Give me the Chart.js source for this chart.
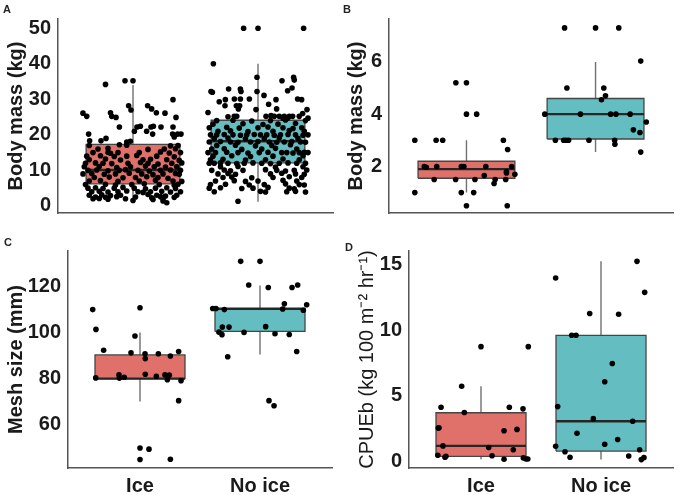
<!DOCTYPE html>
<html>
<head>
<meta charset="utf-8">
<script src="https://cdn.jsdelivr.net/npm/chart.js@4"></script>
<style>
body { margin: 0; background: #fff; }
#wrap { position: relative; width: 677px; height: 495px; font-family: "Liberation Sans", Arial, sans-serif; }
canvas { position: absolute; }
.tag { position: absolute; font-size: 11px; font-weight: bold; color: #222; line-height: 11px; }
</style>
</head>
<body>
<div id="wrap">
  <canvas id="panelA" width="340" height="232" style="left:0;top:0"></canvas>
  <canvas id="panelB" width="337" height="232" style="left:340px;top:0"></canvas>
  <canvas id="panelC" width="340" height="263" style="left:0;top:232px"></canvas>
  <canvas id="panelD" width="337" height="263" style="left:340px;top:232px"></canvas>
  <div class="tag" style="left:3px;top:4px">A</div>
  <div class="tag" style="left:343px;top:4px">B</div>
  <div class="tag" style="left:4px;top:237px">C</div>
  <div class="tag" style="left:345px;top:242px">D</div>
</div>
<script>
const categories = ['Ice', 'No ice'];
const groupColors = ['#E0706A', '#64BEC1'];

// box stats per group: [lower whisker, Q1, median, Q3, upper whisker]
const boxA = [[1.2, 6.2, 10.1, 17.3, 34.0], [1.2, 12.1, 18.2, 24.1, 40.0]];
const boxB = [[1.0, 1.55, 1.9, 2.2, 3.0], [2.55, 3.05, 4.0, 4.6, 6.0]];
const boxC = [[70, 80, 80, 90.3, 100], [90.5, 100.5, 110.4, 110.4, 120.5]];
const boxD = [[0.15, 0.37, 1.17, 3.7, 5.73], [0.12, 0.77, 3.05, 9.62, 15.27]];

// y axis ticks and ranges
const ticksA = [0, 10, 20, 30, 40, 50];
const ticksB = [2, 4, 6];
const ticksC = [60, 80, 100, 120];
const ticksD = [0, 5, 10, 15];
const rangeA = [-2, 52.6];
const rangeB = [0.22, 7.64];
const rangeC = [41.1, 135.5];
const rangeD = [-0.52, 16.06];

// observations: [jitter offset from group centre, value]
const ptsAIce = [
  [-0.064,35.2],[0,35.2],[-0.22,34.2],[-0.40,26.1],[-0.37,25.2],[-0.18,26.2],[-0.17,25.2],[-0.136,24.9],
  [-0.035,28.2],[-0.016,27],[0.32,29.9],[0.117,28.2],[0.149,27.3],[0.187,26.2],[0.256,26.1],[0.344,24.9],
  [-0.355,20.2],[-0.347,18.3],[-0.256,18.3],[-0.216,19],[-0.109,22.2],[-0.021,18.2],[0.011,21],[0.032,22.2],
  [0.059,22.4],[0.109,21],[0.144,22.2],[0.163,22.4],[0.224,22.2],[0.32,22.2],[0.157,20.2],[0.317,20.2],
  [0.357,20.2],[0.384,20.2],[0.33,19.4],[-0.109,17.2],[-0.05,18],
  [-0.35,17],[-0.05,17.1],[0.3,16.9],[0.36,17],
  [-0.28,16],[-0.2,16.2],[0.12,15.9],[0.25,16],[0.34,16.1],
  [-0.32,15],[-0.2,15.1],[-0.18,14.8],[-0.12,15],[0.05,15],[0.22,15.2],[0.29,14.9],[0.38,15],
  [-0.37,14],[-0.26,14.1],[-0.15,13.9],[-0.05,14],[0.03,14.2],[0.19,14],[0.33,13.8],
  [-0.35,13],[-0.22,13.2],[-0.1,12.9],[0.08,13],[0.14,13.1],[0.27,13],[0.37,12.8],
  [-0.38,12],[-0.3,12.1],[-0.24,12],[-0.17,11.9],[-0.04,12],[0.06,12.2],[0.12,12],[0.2,11.8],[0.31,12],[0.39,12.1],
  [-0.39,11],[-0.27,11.1],[-0.13,10.8],[-0.02,11],[0.1,11.2],[0.17,11],[0.26,10.9],[0.35,11],
  [-0.36,10],[-0.29,10.1],[-0.2,9.9],[-0.11,10],[-0.06,10.2],[0.04,10],[0.13,9.8],[0.22,10],[0.3,10.1],[0.38,10],
  [-0.4,9],[-0.33,9.1],[-0.23,8.9],[-0.14,9],[-0.03,9.2],[0.07,9],[0.16,8.8],[0.24,9],[0.34,9.1],[0.37,8.9],
  [-0.31,8],[-0.19,8.1],[-0.08,7.9],[0.02,8],[0.11,8.2],[0.2,8],[0.28,7.8],
  [-0.35,7],[-0.26,7.1],[-0.12,6.9],[0.05,7],[0.18,7.2],[0.32,7],[0.39,6.9],
  [-0.38,6],[-0.22,6.1],[-0.14,5.9],[-0.01,6],[0.09,6.2],[0.21,6],[0.33,5.8],[0.36,6.1],
  [-0.36,5],[-0.3,5.1],[-0.24,4.9],[-0.15,5],[-0.08,5.2],[0.01,5],[0.1,4.8],[0.18,5],[0.27,5.1],[0.34,4.9],
  [-0.33,4],[-0.27,4.1],[-0.2,3.9],[-0.12,4],[-0.05,4.2],[0.04,4],[0.08,3.8],[0.14,4],[0.23,4.1],[0.3,3.9],[0.38,4],
  [-0.35,3],[-0.25,3.1],[-0.18,2.9],[-0.1,3],[0.12,3.2],[0.19,3],[0.26,2.8],[0.35,3],
  [-0.3,2.5],[-0.22,2.4],[-0.13,2.6],[0.02,2.5],[0.15,2.3],[0.22,2.6],[0.33,2.4],
  [-0.32,2],[-0.27,2.1],[-0.2,1.9],[-0.06,2],[0.16,1.8],[0.24,2],
  [0,1.5],[0.24,1.4],[0.27,0.9]
];
const ptsANoIce = [
  [-0.115,50],[0,50],[0.365,50],[-0.357,40],[-0.008,36.2],[0.285,36.2],[0.29,35.4],[0.192,35.2],
  [-0.376,32.2],[-0.365,32],[-0.235,32.9],[-0.141,32.9],[-0.136,32.2],[-0.008,32.2],[0.048,31.1],[0.237,32.4],
  [0.272,33.2],[-0.31,29.3],[-0.261,29.9],[-0.189,30.1],[-0.141,30.1],[-0.069,30.1],[0.317,30.1],[0.349,29.9],
  [0.144,29.9],[-0.264,28.2],[-0.173,28.2],[-0.147,28.2],[0.085,28.6],[-0.157,27.3],[-0.016,27.1],[0.149,27.3],
  [0.392,27.1],[-0.4,26.3],[-0.24,25.1],[-0.19,25.2],[-0.17,25.2],[0.064,25.2],[0.104,25.4],[0.13,25.2],
  [0.17,25.2],[0.21,25.2],[0.25,25.2],[0.277,25.2],[0.33,25.2],[0.2,24.7],[0.237,24.7],[0.4,24.7],[0.357,26],
  [-0.33,24],[-0.2,24.1],[-0.05,23.9],[0.1,24],[0.22,24.2],[0.38,24],
  [-0.36,23],[-0.12,23.1],[0.04,22.9],[0.16,23],[0.3,23.2],
  [-0.39,22],[-0.25,22.1],[-0.15,21.9],[0,22],[0.08,22.2],[0.2,22],[0.28,21.8],[0.35,22],
  [-0.32,21],[-0.22,21.1],[-0.08,20.9],[0.12,21],[0.25,21.2],[0.37,21],
  [-0.38,20],[-0.33,20],[-0.27,20.1],[-0.2,20],[-0.14,19.9],[-0.09,20],[-0.03,20.1],[0.02,20],[0.07,20],
  [0.13,19.9],[0.18,20],[0.24,20.1],[0.3,20],[0.36,19.9],[0.4,20],
  [-0.35,19],[-0.24,19.1],[-0.1,18.9],[0.05,19],[0.17,19.2],[0.32,19],
  [-0.39,18],[-0.3,18.1],[-0.22,18],[-0.16,17.9],[-0.06,18],[0,18.1],[0.09,18],[0.15,17.9],[0.21,18],[0.27,18.1],[0.34,18],[0.38,17.9],
  [-0.33,17],[-0.18,17.1],[-0.02,16.9],[0.11,17],[0.26,17.2],
  [-0.37,16],[-0.27,16.1],[-0.13,15.9],[0.03,16],[0.14,16.2],[0.31,16],
  [-0.4,15],[-0.34,15],[-0.25,15.1],[-0.16,15],[-0.08,14.9],[0.01,15],[0.08,15.1],[0.19,15],[0.23,15],[0.28,14.9],[0.33,15],[0.37,15.1],[0.4,15],
  [-0.36,14],[-0.21,14.1],[-0.06,13.9],[0.12,14],[0.36,14.1],
  [-0.38,13],[-0.28,13.1],[-0.1,12.9],[0.06,13],[0.2,13.2],[0.33,13],
  [-0.39,12],[-0.35,12],[-0.3,12.1],[-0.24,12],[-0.17,11.9],[-0.11,12],[-0.04,12.1],[0.03,12],[0.1,11.9],[0.17,12],[0.24,12.1],[0.31,12],[0.38,12],
  [-0.3,11],[-0.16,11.1],[0.14,10.9],[0.36,11],
  [-0.37,10],[-0.27,10.1],[-0.22,9.9],[-0.12,10],[0.06,10.2],[0.15,10],[0.22,9.8],[0.29,10],[0.39,10.1],
  [-0.32,9],[-0.24,9.1],[-0.18,8.9],[0.1,9],[0.19,9.2],[0.3,9],[0.37,8.9],
  [-0.28,8],[-0.21,8.1],[-0.05,7.9],[0.12,8],[0.25,8.2],[0.35,8],
  [-0.34,7],[-0.19,7.1],[-0.1,6.9],[0,7],[0.2,7.2],[0.31,7],
  [-0.38,6],[-0.26,6.1],[-0.07,5.9],[0.05,6],[0.22,6.2],[0.33,6],[0.37,5.9],
  [-0.39,5],[-0.3,5.1],[-0.13,4.9],[-0.04,5],[0.08,5.2],[0.25,5],[0.29,4.8],
  [-0.35,4],[0.02,4.1],[0.06,3.9],[0.23,4],[0.3,4.1],[0.38,3.9],
  [-0.16,1.3]
];
const ptsBIce = [
  [-0.40,3.0],[-0.235,3.0],[-0.184,3.0],[0.286,3.0],[0.319,2.65],[-0.082,5.2],[0,5.2],[0,4.0],[0.079,4.0],
  [-0.327,2.0],[-0.311,1.97],[-0.23,2.0],[-0.04,2.0],[-0.02,2.0],[0.15,2.0],[0.35,2.0],[-0.25,1.5],[-0.084,1.5],
  [0.066,1.5],[0.138,1.65],[0.214,1.35],[0.222,1.5],[0.304,1.5],[0.31,1.8],[0.31,1.75],[0.375,1.7],
  [-0.40,1.0],[-0.04,1.0],[0.056,1.0],[0,0.5],[0.316,0.5]
];
const ptsBNoIce = [
  [-0.24,7.3],[0,7.3],[0.18,7.3],[0.35,6.03],[-0.222,5.0],[0.064,5.0],[0.077,4.7],[0.046,4.55],
  [-0.393,4.0],[-0.117,4.0],[0.117,4.0],[0.158,4.0],[0.268,4.0],[0.393,3.7],[0.293,3.4],[0.344,3.3],
  [-0.311,3.0],[-0.247,3.0],[-0.23,3.0],[-0.209,3.0],[-0.051,3.0],[0.148,3.0],[0.15,2.85],[0.35,2.55]
];
const ptsCIce = [
  [-0.394,110],[-0.367,101.4],[0,110.8],[-0.042,98.5],[-0.303,92.3],[-0.075,91.2],[0.042,90.8],[0.044,88.7],
  [0.153,90.8],[0.253,89.8],[0.322,91.8],[-0.369,80.3],[-0.175,81.6],[-0.172,80.2],[-0.131,80.6],[0.044,81.9],
  [0.136,81.0],[0.208,81.6],[0.244,81.5],[0.228,79.5],[0.342,79.1],[0.322,70.4],[0,49.8],[0.075,49.3],
  [0,44.8],[0.253,44.9]
];
const ptsCNoIce = [
  [-0.161,131],[0,131],[-0.094,120.7],[0.069,119.6],[0.267,119.6],[0.314,120.7],[-0.394,110.5],[-0.367,110.5],
  [-0.297,110],[0.203,112.5],[0.189,110.3],[0.361,109.7],[0.389,112.1],[-0.342,100.2],[-0.317,99.1],
  [-0.314,102.4],[-0.258,102.4],[-0.133,100.1],[0.047,102.6],[0.125,99.5],[0.244,99.2],[-0.269,89.5],
  [0.306,91.8],[0.075,70.4],[0.117,68.2]
];
const ptsDIce = [
  [0,8.75],[0.394,8.75],[-0.161,5.73],[-0.333,4.12],[-0.139,3.72],[0.236,4.12],[0.35,4.0],[-0.356,2.53],
  [-0.35,2.55],[0.192,2.33],[0.3,2.43],[-0.317,1.17],[0.064,1.04],[0.269,0.87],[-0.36,0.45],[-0.3,0.3],
  [-0.292,0.37],[0.092,0.42],[0.192,0.15],[0.353,0.25],[0.375,0.17],[0.39,0.17]
];
const ptsDNoIce = [
  [0.3,15.27],[-0.378,14.0],[0.364,12.9],[-0.094,11.28],[0.147,11.23],[-0.244,9.62],[-0.208,9.62],
  [0.094,7.46],[0.031,6.07],[-0.361,4.17],[-0.064,3.25],[0.264,3.05],[-0.2,2.13],[0.139,1.66],[0.031,1.29],
  [-0.378,1.14],[-0.3,0.72],[0.322,0.87],[-0.258,0.3],[0.231,0.4],[0.336,0.12],[0.358,0.27]
];

const halfBox = 0.375;
const axisColor = '#555';
const textColor = '#1a1a1a';

Chart.defaults.font.family = '"Liberation Sans", Arial, sans-serif';

function makeDatasets(box, groups) {
    let points = [];
    groups.forEach((pts, g) => {
        pts.forEach(p => points.push({x: g + 1 + p[0], y: p[1]}));
    });
    let medians = [];
    let whiskers = [];
    let boxes = [];
    box.forEach((b, g) => {
        let c = g + 1;
        medians.push({x: c - halfBox, y: b[2]}, {x: c + halfBox, y: b[2]}, {x: c, y: null});
        whiskers.push({x: c, y: b[0]}, {x: c, y: b[1]}, {x: c, y: null},
                      {x: c, y: b[3]}, {x: c, y: b[4]}, {x: c, y: null});
        boxes.push({
            data: [{x: c - halfBox, y: b[1]}, {x: c + halfBox, y: b[1]}, {x: c + halfBox, y: b[3]},
                   {x: c - halfBox, y: b[3]}, {x: c - halfBox, y: b[1]}],
            showLine: true, fill: 'shape', pointRadius: 0,
            backgroundColor: groupColors[g], borderColor: '#454545', borderWidth: 1.3, tension: 0
        });
    });
    return [
        {data: points, pointRadius: 2.8, backgroundColor: '#000', borderWidth: 0, showLine: false},
        {data: medians, showLine: true, pointRadius: 0, borderColor: '#262626', borderWidth: 2.4, spanGaps: false}
    ].concat(boxes).concat([
        {data: whiskers, showLine: true, pointRadius: 0, borderColor: '#707070', borderWidth: 1.4, spanGaps: false}
    ]);
}

function makePanel(id, p) {
    new Chart(document.getElementById(id), {
        type: 'scatter',
        data: {datasets: makeDatasets(p.box, p.groups)},
        options: {
            animation: false,
            responsive: false,
            devicePixelRatio: 1,
            layout: {padding: {left: 0, right: p.padRight, top: p.padTop, bottom: 0}},
            plugins: {legend: {display: false}, tooltip: {enabled: false}},
            scales: {
                x: {
                    type: 'linear', min: 0.4, max: 2.6,
                    grid: {display: false, drawTicks: false},
                    border: {display: true, color: axisColor, width: 1.5},
                    afterBuildTicks: (s) => { s.ticks = [{value: 1}, {value: 2}]; },
                    ticks: {
                        display: p.showX, padding: 6, color: textColor,
                        font: {size: 20, weight: 'bold'},
                        callback: (v) => categories[Math.round(v) - 1]
                    },
                    afterFit: (s) => { s.height = p.xHeight; }
                },
                y: {
                    min: p.range[0], max: p.range[1],
                    grid: {display: false, drawTicks: false},
                    border: {display: true, color: axisColor, width: 1.5},
                    afterBuildTicks: (s) => { s.ticks = p.ticks.map(v => ({value: v})); },
                    ticks: {padding: 7, color: textColor, font: {size: 20, weight: 'bold'}},
                    title: {
                        display: true, text: p.title, color: textColor,
                        font: {size: 20, weight: p.titleWeight},
                        padding: {top: p.titlePad, bottom: 0}
                    },
                    afterFit: (s) => { s.width = p.yWidth; }
                }
            }
        }
    });
}

makePanel('panelA', {box: boxA, groups: [ptsAIce, ptsANoIce], ticks: ticksA, range: rangeA,
    title: 'Body mass (kg)', titleWeight: 'bold', titlePad: 4, yWidth: 58, padRight: 7, padTop: 3, xHeight: 4, showX: false});
makePanel('panelB', {box: boxB, groups: [ptsBIce, ptsBNoIce], ticks: ticksB, range: rangeB,
    title: 'Body mass (kg)', titleWeight: 'bold', titlePad: 4, yWidth: 49, padRight: 4, padTop: 3, xHeight: 4, showX: false});
makePanel('panelC', {box: boxC, groups: [ptsCIce, ptsCNoIce], ticks: ticksC, range: rangeC,
    title: 'Mesh size (mm)', titleWeight: 'bold', titlePad: 4, yWidth: 68, padRight: 8, padTop: 13, xHeight: 27, showX: true});
makePanel('panelD', {box: boxD, groups: [ptsDIce, ptsDNoIce], ticks: ticksD, range: rangeD,
    title: 'CPUEb (kg 100 m\u207B\u00B2 hr\u207B\u00B9)', titleWeight: 'normal', titlePad: 15, yWidth: 69, padRight: 4, padTop: 13, xHeight: 27, showX: true});
</script>
</body>
</html>
